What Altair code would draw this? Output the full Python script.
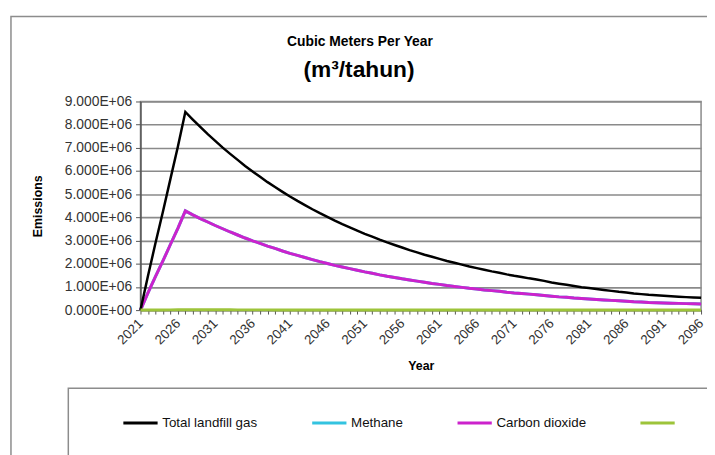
import altair as alt
import pandas as pd

# ---------------- data (in million m3) -------------
years = list(range(2021, 2097))

series_names = ["Total landfill gas", "Methane", "Carbon dioxide", "NMOC"]
series_colors = ["#000000", "#33C3E0", "#CC22CC", "#9DC43A"]

total_mm3 = [
    0.00, 1.47, 2.88, 4.24, 5.65, 7.05,
    8.55, 8.22, 7.90, 7.59, 7.30, 7.01, 6.74, 6.48, 6.22, 5.98,
    5.75, 5.52, 5.31, 5.10, 4.90, 4.71, 4.53, 4.35, 4.18, 4.02,
    3.86, 3.71, 3.57, 3.43, 3.29, 3.17, 3.04, 2.92, 2.81, 2.70,
    2.59, 2.49, 2.39, 2.30, 2.21, 2.12, 2.04, 1.96, 1.88, 1.81,
    1.74, 1.67, 1.61, 1.54, 1.48, 1.43, 1.37, 1.32, 1.26,
    1.19, 1.14, 1.09, 1.04, 0.99, 0.95, 0.91, 0.87, 0.83, 0.79,
    0.76, 0.72, 0.69, 0.66, 0.64, 0.62, 0.60, 0.58, 0.56, 0.545, 0.53,
]

carbon_dioxide_mm3 = [
    0.00, 0.74, 1.44, 2.12, 2.83, 3.53,
    4.28, 4.11, 3.95, 3.80, 3.65, 3.51, 3.37, 3.24, 3.11, 2.99,
    2.88, 2.76, 2.66, 2.55, 2.45, 2.36, 2.27, 2.18, 2.09, 2.01,
    1.93, 1.86, 1.79, 1.72, 1.65, 1.59, 1.52, 1.46, 1.41, 1.35,
    1.30, 1.25, 1.20, 1.15, 1.11, 1.06, 1.02, 0.98, 0.94, 0.91,
    0.87, 0.84, 0.81, 0.77, 0.74, 0.72, 0.69, 0.66, 0.63,
    0.60, 0.57, 0.55, 0.52, 0.50, 0.48, 0.46, 0.44, 0.42, 0.40,
    0.38, 0.36, 0.35, 0.33, 0.32, 0.31, 0.30, 0.29, 0.28, 0.27, 0.265,
]

# methane is hidden under the carbon dioxide line in the picture (same values)
methane_mm3 = [
    0.00, 0.74, 1.44, 2.12, 2.83, 3.53,
    4.28, 4.11, 3.95, 3.80, 3.65, 3.51, 3.37, 3.24, 3.11, 2.99,
    2.88, 2.76, 2.66, 2.55, 2.45, 2.36, 2.27, 2.18, 2.09, 2.01,
    1.93, 1.86, 1.79, 1.72, 1.65, 1.59, 1.52, 1.46, 1.41, 1.35,
    1.30, 1.25, 1.20, 1.15, 1.11, 1.06, 1.02, 0.98, 0.94, 0.91,
    0.87, 0.84, 0.81, 0.77, 0.74, 0.72, 0.69, 0.66, 0.63,
    0.60, 0.57, 0.55, 0.52, 0.50, 0.48, 0.46, 0.44, 0.42, 0.40,
    0.38, 0.36, 0.35, 0.33, 0.32, 0.31, 0.30, 0.29, 0.28, 0.27, 0.265,
]

nmoc_mm3 = [
    0.000, 0.002, 0.005, 0.007, 0.009, 0.011, 0.014, 0.013, 0.013, 0.012,
    0.012, 0.011, 0.011, 0.010, 0.010, 0.010, 0.009, 0.009, 0.008, 0.008,
    0.008, 0.008, 0.007, 0.007, 0.007, 0.006, 0.006, 0.006, 0.006, 0.005,
    0.005, 0.005, 0.005, 0.005, 0.004, 0.004, 0.004, 0.004, 0.004, 0.004,
    0.003, 0.003, 0.003, 0.003, 0.003, 0.003, 0.003, 0.003, 0.002, 0.002,
    0.002, 0.002, 0.002, 0.002, 0.002, 0.002, 0.002, 0.002, 0.002, 0.002,
    0.001, 0.001, 0.001, 0.001, 0.001, 0.001, 0.001, 0.001,
    0.001, 0.001, 0.001, 0.001, 0.001, 0.001, 0.001, 0.001,
]

y_ticks = [0, 1e6, 2e6, 3e6, 4e6, 5e6, 6e6, 7e6, 8e6, 9e6]

title_line1 = "Cubic Meters Per Year"
title_line2 = "(m³/tahun)"

# ---------------- table ----------------
rows = []
for name, vals in zip(series_names, [total_mm3, methane_mm3, carbon_dioxide_mm3, nmoc_mm3]):
    for yr, v in zip(years, vals):
        rows.append({"Year": yr, "Emissions": v * 1e6, "series": name})
df = pd.DataFrame(rows)

W, H = 567, 211

x_enc = alt.X(
    "Year:Q",
    scale=alt.Scale(domain=[2021, 2096], nice=False, zero=False),
    axis=alt.Axis(
        values=years, format="d",
        labelExpr="(datum.value - 2021) % 5 == 0 ? datum.label : ''",
        labelAngle=-45, labelAlign="right", labelBaseline="middle",
        labelOverlap=False, labelFontSize=13.5, labelPadding=7,
        tickSize=4, grid=False, title="Year", titleFontSize=12.5,
        titleFontWeight="bold", titleY=56, titleX=W / 2, titleBaseline="middle",
    ),
)
y_enc = alt.Y(
    "Emissions:Q",
    scale=alt.Scale(domain=[0, 9e6], nice=False),
    axis=alt.Axis(
        values=y_ticks,
        labelExpr="datum.value == 0 ? '0.000E+00' : format(datum.value / 1e6, '.3f') + 'E+06'",
        labelFontSize=14, labelPadding=4, tickSize=5,
        grid=True, gridColor="#8a8a8a", gridWidth=1.6,
        title="Emissions", titleFontSize=12.5, titleFontWeight="bold",
        titleX=-104, titleY=H / 2, titleBaseline="middle", titleAlign="center",
    ),
)
color_enc = alt.Color(
    "series:N",
    scale=alt.Scale(domain=series_names, range=series_colors),
    legend=alt.Legend(
        orient="none", legendX=-19, legendY=306, direction="horizontal",
        title=None, symbolType="stroke", symbolSize=1200, symbolStrokeWidth=3,
        labelFontSize=13.5, labelOffset=3, columnPadding=48,
        labelExpr="datum.label == 'NMOC' ? '' : datum.label",
    ),
)

base = alt.Chart(df).encode(x=x_enc, y=y_enc, color=color_enc)

def series_layer(name, width):
    return base.transform_filter(alt.datum.series == name).mark_line(strokeWidth=width)

frame_df = pd.DataFrame({"k": [0]})
outer_frame = alt.Chart(frame_df).mark_rect(
    fill="transparent", stroke="#8c8c8c", strokeWidth=1.5
).encode(x=alt.value(-131), x2=alt.value(620), y=alt.value(-86), y2=alt.value(400))
legend_box = alt.Chart(frame_df).mark_rect(
    fill="transparent", stroke="#8c8c8c", strokeWidth=1.5
).encode(x=alt.value(-73), x2=alt.value(620), y=alt.value(290), y2=alt.value(400))

title1 = alt.Chart(frame_df).mark_text(
    fontSize=14, fontWeight="bold", color="black", align="center", baseline="middle"
).encode(x=alt.value(222), y=alt.value(-60), text=alt.value(title_line1))
title2 = alt.Chart(frame_df).mark_text(
    fontSize=23, fontWeight="bold", color="black", align="center", baseline="middle"
).encode(x=alt.value(221), y=alt.value(-32), text=alt.value(title_line2))

chart = alt.layer(
    outer_frame,
    legend_box,
    title1,
    title2,
    series_layer("Methane", 3),
    series_layer("Carbon dioxide", 3),
    series_layer("Total landfill gas", 2.5),
    series_layer("NMOC", 3),
).properties(
    width=W, height=H,
    autosize=alt.AutoSizeParams(type="none"),
    padding={"left": 134, "top": 92, "right": 6, "bottom": 144},
).configure(
    font="Liberation Sans",
).configure_view(
    stroke="#8a8a8a", strokeWidth=1.5,
).configure_axis(
    labelColor="#333333", titleColor="#000000",
    domainColor="#555555", tickColor="#555555", domainWidth=1.5,
).configure_legend(
    labelColor="#111111",
)

chart.save("out.html", embed_options={"renderer": "svg", "actions": False})
